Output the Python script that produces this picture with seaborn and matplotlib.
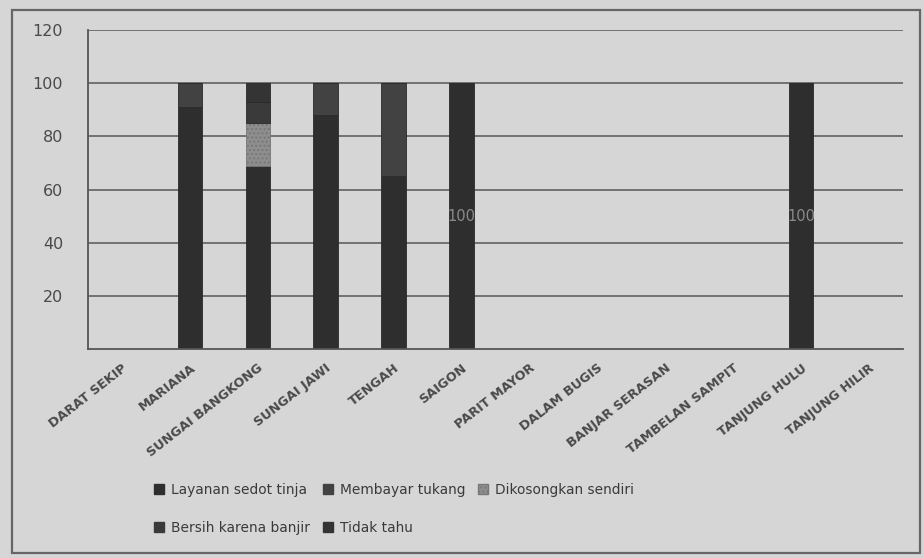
import matplotlib
matplotlib.use("Agg")
import matplotlib.pyplot as plt
from matplotlib.patches import Patch, Rectangle
from matplotlib.ticker import FixedLocator
import seaborn as sns

# Kelurahan / desa
villages = ["DARAT SEKIP", "MARIANA", "SUNGAI BANGKONG", "SUNGAI JAWI", "TENGAH",
            "SAIGON", "PARIT MAYOR", "DALAM BUGIS", "BANJAR SERASAN",
            "TAMBELAN SAMPIT", "TANJUNG HULU", "TANJUNG HILIR"]

# Persentase tiap cara pengosongan tangki septik
layanan_sedot = [0, 91, 69, 88, 65, 100, 0, 0, 0, 0, 100, 0]
membayar_tukang = [0, 9, 0, 12, 35, 0, 0, 0, 0, 0, 0, 0]
dikosongkan_sendiri = [0, 0, 16, 0, 0, 0, 0, 0, 0, 0, 0, 0]
bersih_banjir = [0, 0, 8, 0, 0, 0, 0, 0, 0, 0, 0, 0]
tidak_tahu = [0, 0, 7, 0, 0, 0, 0, 0, 0, 0, 0, 0]

series_names = ["Layanan sedot tinja", "Membayar tukang", "Dikosongkan sendiri",
                "Bersih karena banjir", "Tidak tahu"]
series_values = [layanan_sedot, membayar_tukang, dikosongkan_sendiri,
                 bersih_banjir, tidak_tahu]
series_colors = ["#2e2e2e", "#424242", "#8e8e8e", "#3a3a3a", "#343434"]
series_hatch = [None, None, "....", None, None]

# Nilai yang ditampilkan sebagai label di tengah batang
shown_labels = {"SAIGON": layanan_sedot[5], "TANJUNG HULU": layanan_sedot[10]}

bg = "#d6d6d6"
sns.set_style("white")
plt.rcParams["font.family"] = ["DejaVu Sans"]

fig = plt.figure(figsize=(9.24, 5.58), dpi=100, facecolor=bg)
ax = fig.add_axes([88 / 924, 1 - 349 / 558, (903 - 88) / 924, (349 - 30) / 558])
ax.set_facecolor(bg)

bottoms = [0] * len(villages)
for name, vals, col, hat in zip(series_names, series_values, series_colors, series_hatch):
    sns.barplot(x=villages, y=vals, bottom=bottoms, color=col, saturation=1,
                width=0.36, errorbar=None, ax=ax, order=villages,
                hatch=hat, edgecolor="#2a2a2a" if hat is None else "#777777",
                linewidth=0.6)
    bottoms = [b + v for b, v in zip(bottoms, vals)]

for vname, val in shown_labels.items():
    i = villages.index(vname)
    ax.text(i, val / 2, f"{val}", ha="center", va="center",
            fontsize=10.5, color="#8a8a8a")

ax.set_ylim(0, 120)
ax.set_xlim(-0.5, len(villages) - 0.5)
ax.set_yticks([20, 40, 60, 80, 100, 120])
ax.grid(axis="y", color="#6a6a6a", linewidth=1.3)
ax.set_axisbelow(True)

for s in ["top", "right"]:
    ax.spines[s].set_visible(False)
for s in ["left", "bottom"]:
    ax.spines[s].set_color("#555555")
    ax.spines[s].set_linewidth(1.3)

ax.tick_params(axis="y", length=4, width=1.2, color="#555555", pad=14,
               labelsize=11.5, labelcolor="#4a4a4a")
ax.xaxis.set_minor_locator(FixedLocator([k - 0.5 for k in range(len(villages) + 1)]))
ax.tick_params(axis="x", which="major", length=0, pad=9)
ax.tick_params(axis="x", which="minor", length=4, width=1.0, color="#666666")
ax.set_xticks(range(len(villages)))
ax.set_xticklabels(villages, rotation=38, ha="right", rotation_mode="anchor",
                   fontsize=9.3, fontweight="bold", color="#4a4a4a")
ax.set_xlabel("")
ax.set_ylabel("")

# Legenda dua baris: urutan per kolom agar terbaca per baris
handles = [Patch(facecolor=c, edgecolor="#777777" if h else c, hatch=h, label=n)
           for n, c, h in zip(series_names, series_colors, series_hatch)]
order = [0, 3, 1, 4, 2]
fig.legend([handles[k] for k in order], [series_names[k] for k in order],
           ncol=3, loc="upper left", bbox_to_anchor=(154 / 924, 1 - 483 / 558),
           frameon=False, fontsize=9.9, handlelength=0.75, handleheight=0.75,
           handletextpad=0.5, columnspacing=0.9, labelspacing=1.75,
           borderpad=0, borderaxespad=0, labelcolor="#3a3a3a")

# Bingkai luar grafik
fig.patches.append(Rectangle((12 / 924, 1 - 553 / 558), 908 / 924, 543 / 558,
                             transform=fig.transFigure, fill=False,
                             edgecolor="#666666", linewidth=1.6))

fig.savefig("out.png", dpi=100, facecolor=bg)
